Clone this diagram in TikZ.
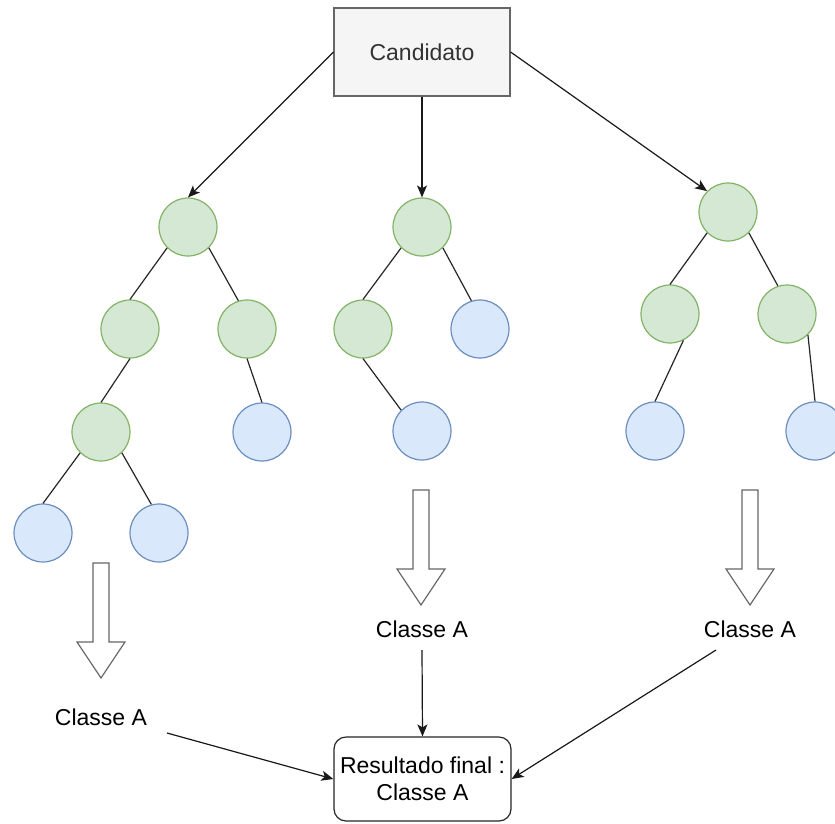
\documentclass[tikz,border=0pt]{standalone}
\usepackage{fontspec}
\setmainfont{Liberation Sans}
\usetikzlibrary{arrows.meta}
\definecolor{gfill}{HTML}{D5E8D4}
\definecolor{gline}{HTML}{82B366}
\definecolor{bfill}{HTML}{DAE8FC}
\definecolor{bline}{HTML}{6C8EBF}
\definecolor{boxfill}{HTML}{F5F5F5}
\definecolor{boxline}{HTML}{666666}
\definecolor{txtgray}{HTML}{333333}
\tikzset{
  every node/.style={font=\fontsize{23}{27}\selectfont},
  gnode/.style={circle, draw=gline, fill=gfill, line width=1.2pt, minimum size=58pt, inner sep=0pt},
  bnode/.style={circle, draw=bline, fill=bfill, line width=1.2pt, minimum size=58pt, inner sep=0pt},
  edge/.style={draw=black!85, line width=1.2pt},
  conn/.style={draw=black!90, line width=1.2pt, -{Stealth[length=12pt,width=10pt,inset=3pt]}},
  labelnode/.style={inner sep=0pt},
  blockarrow/.pic={
    \draw[draw=black!60, fill=white, line width=1.2pt, line join=miter]
      (-8,0) -- (8,0) -- (8,79) -- (24,79) -- (0,115) -- (-24,79) -- (-8,79) -- cycle;
  }
}
\begin{document}
\begin{tikzpicture}[x=1pt,y=-1pt]
\clip (0,0) rectangle (835,823);
\fill[white] (0,0) rectangle (835,823);

% top box
\node[draw=boxline, fill=boxfill, line width=1.2pt, minimum width=176pt, minimum height=88pt, text=txtgray] (cand) at (422,52) {Candidato};

% left tree
\node[gnode] (a0) at (188,227) {};
\node[gnode] (a1) at (130,329) {};
\node[gnode] (a2) at (247,329) {};
\node[gnode] (a3) at (101,432) {};
\node[bnode] (a4) at (262,432) {};
\node[bnode] (a5) at (43,533) {};
\node[bnode] (a6) at (159,533) {};

% middle tree
\node[gnode] (b0) at (422,227) {};
\node[gnode] (b1) at (363,329) {};
\node[bnode] (b2) at (480,329) {};
\node[bnode] (b3) at (422,431) {};

% right tree
\node[gnode] (c0) at (728,212) {};
\node[gnode] (c1) at (670,314) {};
\node[gnode] (c2) at (787,314) {};
\node[bnode] (c3) at (655,431) {};
\node[bnode] (c4) at (815,431) {};

% tree edges
\draw[edge] (a0.225) -- (a1.north);
\draw[edge] (a0.-45) -- (a2.107);
\draw[edge] (a1.south) -- (a3.north);
\draw[edge] (a2.south) -- (a4.north);
\draw[edge] (a3.225) -- (a5.north);
\draw[edge] (a3.-45) -- (a6.105);
\draw[edge] (b0.225) -- (b1.north);
\draw[edge] (b0.-45) -- (b2.107);
\draw[edge] (b1.south) -- (b3.135);
\draw[edge] (c0.225) -- (c1.north);
\draw[edge] (c0.-45) -- (c2.108);
\draw[edge] (c1.-63) -- (c3.north);
\draw[edge] (c2.-45) -- (c4.north);

% connectors from top box
\draw[conn] (cand.west) -- (a0.north);
\draw[conn] (cand.south) -- (b0.north);
\draw[conn] (cand.east) -- (c0.135);

% block arrows
\pic at (101,563) {blockarrow};
\pic at (421,490) {blockarrow};
\pic at (750,490) {blockarrow};

% labels
\node[labelnode] (lab1) at (101,717) {Classe A};
\node[labelnode] (lab2) at (422,629) {Classe A};
\node[labelnode] (lab3) at (750,629) {Classe A};

% result box
\node[draw=black!85, fill=white, rounded corners=12pt, line width=1.2pt, minimum width=177pt, minimum height=84pt, align=center] (res) at (422.5,779) {Resultado final :\\Classe A};

\draw[conn] ([xshift=66pt,yshift=-16pt]lab1.center) -- (res.west);
\draw[conn] ([yshift=-21pt]lab2.center) -- (res.north);
\draw[conn] ([xshift=-34pt,yshift=-21pt]lab3.center) -- (res.east);
\end{tikzpicture}
\end{document}
